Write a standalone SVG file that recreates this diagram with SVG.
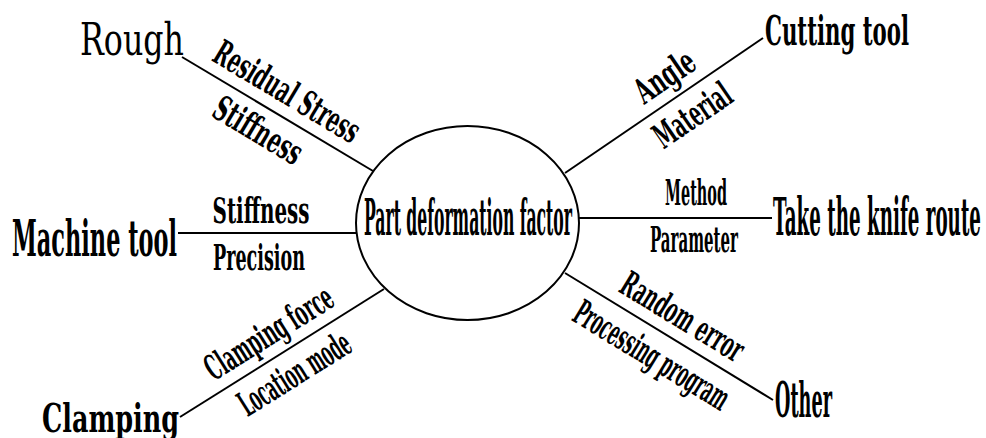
<svg xmlns="http://www.w3.org/2000/svg" width="986" height="438" viewBox="0 0 986 438">
<style>
text{font-family:'DejaVu Serif Condensed','DejaVu Serif','Liberation Serif',serif;fill:#000;font-weight:bold;}
.lbl{font-size:35px;text-anchor:middle;}
.reg{font-weight:normal;}
.ln{stroke:#000;stroke-width:2;fill:none;}
</style>
<rect width="986" height="438" fill="#fff"/>
<g id="connectors">
<line class="ln" x1="182" y1="57" x2="373" y2="171"/>
<line class="ln" x1="763" y1="38" x2="565" y2="173"/>
<line class="ln" x1="178" y1="233" x2="357" y2="233"/>
<line class="ln" x1="579" y1="218" x2="772" y2="218"/>
<line class="ln" x1="180" y1="417" x2="384" y2="289"/>
<line class="ln" x1="565" y1="273" x2="773" y2="400"/>
</g>
<g id="edge-labels">
<g transform="translate(182,57) rotate(30.83)">
<text class="lbl" x="108" y="-12" textLength="164" lengthAdjust="spacingAndGlyphs">Residual Stress</text>
<text class="lbl" x="103" y="36" textLength="98" lengthAdjust="spacingAndGlyphs">Stiffness</text>
</g>
<g transform="translate(566,173) rotate(-34.42)">
<text class="lbl" x="136" y="-12" textLength="66" lengthAdjust="spacingAndGlyphs">Angle</text>
<text class="lbl" x="137" y="36" textLength="87" lengthAdjust="spacingAndGlyphs">Material</text>
</g>
<g transform="translate(180,417) rotate(-32.1)">
<text class="lbl" x="120" y="-12" textLength="145" lengthAdjust="spacingAndGlyphs">Clamping force</text>
<text class="lbl" x="120" y="36" textLength="126" lengthAdjust="spacingAndGlyphs">Location mode</text>
</g>
<g transform="translate(565,273) rotate(31.4)">
<text class="lbl" x="123" y="-12" textLength="138" lengthAdjust="spacingAndGlyphs">Random error</text>
<text class="lbl" x="117" y="37" textLength="176" lengthAdjust="spacingAndGlyphs">Processing program</text>
</g>
<text class="lbl" x="261" y="223" textLength="97" lengthAdjust="spacingAndGlyphs">Stiffness</text>
<text class="lbl" x="259" y="270" textLength="92" lengthAdjust="spacingAndGlyphs">Precision</text>
<text class="lbl" x="696" y="205" textLength="62" lengthAdjust="spacingAndGlyphs">Method</text>
<text class="lbl" x="694" y="252" textLength="88" lengthAdjust="spacingAndGlyphs">Parameter</text>
</g>
<g id="center">
<ellipse class="ln" cx="467.5" cy="223" rx="111.5" ry="97"/>
<text x="364" y="235" font-size="50" textLength="208" lengthAdjust="spacingAndGlyphs">Part deformation factor</text>
</g>
<g id="rough"><text class="reg" x="80" y="55" font-size="45" textLength="104" lengthAdjust="spacingAndGlyphs">Rough</text></g>
<g id="cutting-tool"><text x="765" y="45" font-size="41" textLength="144" lengthAdjust="spacingAndGlyphs">Cutting tool</text></g>
<g id="machine-tool"><text x="12" y="256" font-size="51" textLength="165" lengthAdjust="spacingAndGlyphs">Machine tool</text></g>
<g id="knife-route"><text x="773" y="235" font-size="52" textLength="208" lengthAdjust="spacingAndGlyphs">Take the knife route</text></g>
<g id="clamping"><text x="42" y="432" font-size="40" textLength="137" lengthAdjust="spacingAndGlyphs">Clamping</text></g>
<g id="other"><text x="775" y="417" font-size="48" textLength="57" lengthAdjust="spacingAndGlyphs">Other</text></g>
</svg>
